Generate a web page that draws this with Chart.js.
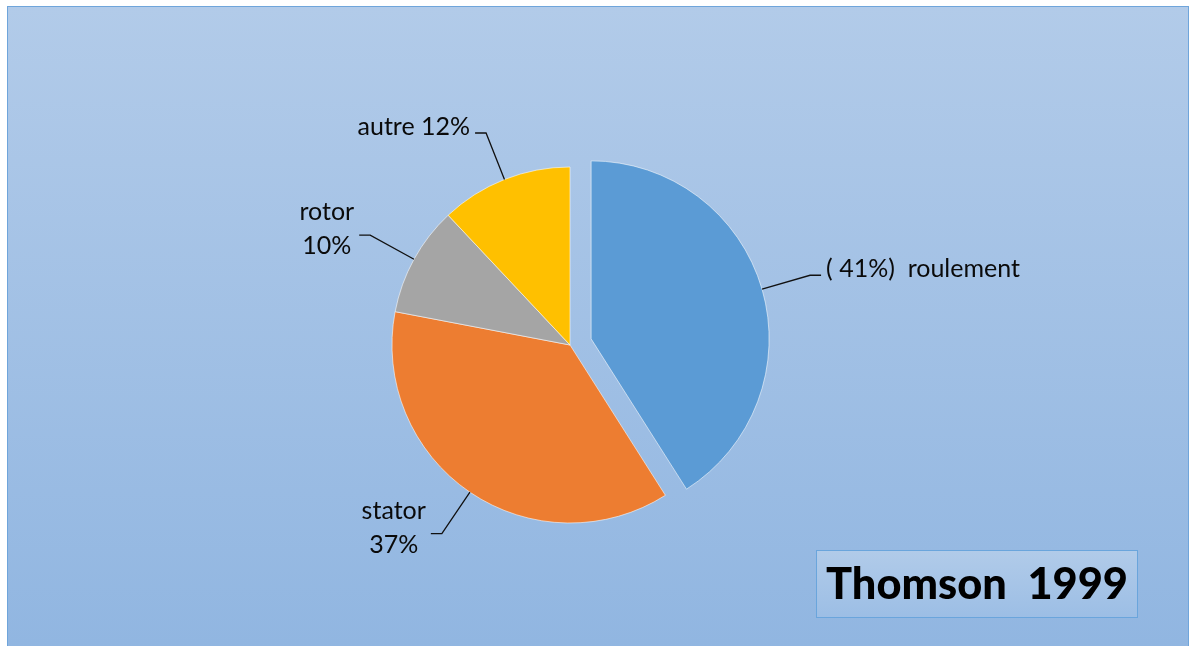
<!DOCTYPE html>
<html>
<head>
<meta charset="utf-8">
<script src="https://cdn.jsdelivr.net/npm/chart.js@4/dist/chart.umd.min.js"></script>
<style>
  html, body { margin: 0; padding: 0; background: #ffffff; overflow: hidden; }
  #wrap { width: 1191px; height: 646px; position: relative; }
  canvas { display: block; }
</style>
</head>
<body>
<div id="wrap"><canvas id="chart" width="1191" height="646"></canvas></div>
<script>
// Failure sources of induction motors
const categories = ['roulement', 'stator', 'rotor', 'autre'];
const shares = [41, 37, 10, 12];
const sliceColors = ['#5b9bd5', '#ed7d31', '#a5a5a5', '#ffc000'];
const explode = [22, 0, 0, 0];
const caption = 'Thomson  1999';

const FONT = 'Lato, "Open Sans", "DejaVu Sans", sans-serif';

// Text of each slice label, built from its share
function labelLines(i) {
  const pct = shares[i] + '%';
  if (categories[i] === 'roulement') return ['( ' + pct + ')  roulement'];
  if (categories[i] === 'autre') return ['autre ' + pct];
  return [categories[i], pct];
}

// Gradient frame behind the whole chart
const framePlugin = {
  id: 'frame',
  beforeDraw(chart) {
    const ctx = chart.ctx;
    const w = chart.width, h = chart.height;
    ctx.save();
    ctx.fillStyle = '#ffffff';
    ctx.fillRect(0, 0, w, h);
    const g = ctx.createLinearGradient(0, 6, 0, h);
    g.addColorStop(0, '#b2cbe9');
    g.addColorStop(1, '#91b6e1');
    ctx.fillStyle = g;
    ctx.fillRect(7, 6, w - 9, h);
    ctx.strokeStyle = '#6fa5db';
    ctx.lineWidth = 1;
    ctx.strokeRect(7.5, 6.5, w - 10, h + 10);
    ctx.restore();
  }
};

// Pull exploded slices outward along their bisector
const explodePlugin = {
  id: 'explode',
  afterDatasetsUpdate(chart) {
    const meta = chart.getDatasetMeta(0);
    meta.data.forEach((arc, i) => {
      const d = explode[i] || 0;
      if (!d) return;
      const mid = (arc.startAngle + arc.endAngle) / 2;
      arc.x += Math.cos(mid) * d;
      arc.y += Math.sin(mid) * d;
    });
  }
};

// Leader lines and slice labels
const labelPlugin = {
  id: 'sliceLabels',
  afterDatasetsDraw(chart) {
    const ctx = chart.ctx;
    const meta = chart.getDatasetMeta(0);
    ctx.save();
    ctx.font = '25px ' + FONT;
    ctx.textBaseline = 'middle';
    meta.data.forEach((arc, i) => {
      const mid = (arc.startAngle + arc.endAngle) / 2;
      const cx = Math.cos(mid), cy = Math.sin(mid);
      const r = arc.outerRadius;
      const px = arc.x + cx * r, py = arc.y + cy * r;
      const ext = 50;
      const ex = arc.x + cx * (r + ext), ey = arc.y + cy * (r + ext);
      const side = cx >= 0 ? 1 : -1;
      const sx = ex + side * 11;
      ctx.strokeStyle = '#111111';
      ctx.lineWidth = 1.3;
      ctx.beginPath();
      ctx.moveTo(px, py);
      ctx.lineTo(ex, ey);
      ctx.lineTo(sx, ey);
      ctx.stroke();

      const lines = labelLines(i);
      const widths = lines.map(t => ctx.measureText(t).width);
      const w = Math.max(...widths);
      const left = side > 0 ? sx + 5 : sx - 5 - w;
      const lh = 34;
      const top = ey - 6 - (lines.length - 1) * lh / 2;
      ctx.fillStyle = '#0a0a0a';
      ctx.textAlign = 'center';
      lines.forEach((t, k) => ctx.fillText(t, left + w / 2, top + k * lh));
    });
    ctx.restore();
  }
};

// Caption box in the lower right corner
const captionPlugin = {
  id: 'caption',
  afterDraw(chart) {
    const ctx = chart.ctx;
    const x = 816.5, y = 550.5, bw = 321, bh = 67;
    ctx.save();
    const g = ctx.createLinearGradient(0, y, 0, y + bh);
    g.addColorStop(0, '#b1cbe9');
    g.addColorStop(1, '#9cbee5');
    ctx.fillStyle = g;
    ctx.fillRect(x, y, bw, bh);
    ctx.strokeStyle = '#6aa5dc';
    ctx.lineWidth = 1;
    ctx.strokeRect(x, y, bw, bh);
    let size = 45;
    ctx.font = '900 ' + size + 'px ' + FONT;
    const tw = ctx.measureText(caption).width;
    if (tw > 302) {
      size = size * 302 / tw;
      ctx.font = '900 ' + size + 'px ' + FONT;
    }
    ctx.fillStyle = '#000000';
    ctx.textAlign = 'center';
    ctx.textBaseline = 'middle';
    ctx.fillText(caption, x + bw / 2, y + bh / 2 + 1);
    ctx.restore();
  }
};

function build() {
  new Chart(document.getElementById('chart'), {
    type: 'pie',
    data: {
      labels: categories,
      datasets: [{
        data: shares,
        backgroundColor: sliceColors,
        borderColor: 'rgba(255,255,255,0.55)',
        borderWidth: 1,
        radius: 178
      }]
    },
    options: {
      responsive: false,
      animation: false,
      rotation: 0,
      layout: { padding: { left: 200, right: 251, top: 155, bottom: 111 } },
      plugins: {
        legend: { display: false },
        tooltip: { enabled: false },
        title: { display: false }
      }
    },
    plugins: [framePlugin, explodePlugin, labelPlugin, captionPlugin]
  });
}

if (document.fonts && document.fonts.load) {
  Promise.all([
    document.fonts.load('25px Lato'),
    document.fonts.load('900 45px Lato')
  ]).then(build, build);
} else {
  build();
}
</script>
</body>
</html>
